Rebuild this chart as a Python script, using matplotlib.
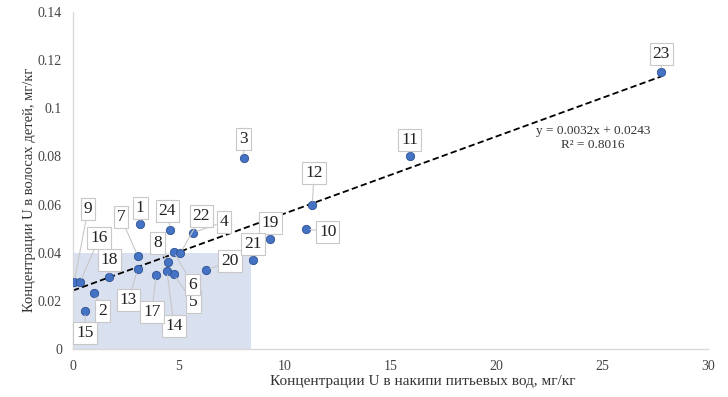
import matplotlib
matplotlib.use("Agg")
import matplotlib.pyplot as plt
from matplotlib.patches import Rectangle
import numpy as np

# ---- data ----
labels = ["1", "2", "3", "4", "5", "6", "7", "8", "9", "10", "11", "12",
          "13", "14", "15", "16", "17", "18", "19", "20", "21", "22", "23", "24"]
x_scale = [3.18, 1.01, 8.06, 5.67, 4.75, 4.75, 3.06, 4.47, 0.05, 11.0, 15.9, 11.3,
           3.05, 4.44, 0.57, 0.33, 3.92, 1.71, 9.33, 6.29, 8.51, 5.07, 27.8, 4.6]
y_hair = [0.0518, 0.0231, 0.0793, 0.0483, 0.0310, 0.0405, 0.0386, 0.0360, 0.0277, 0.0499, 0.0802, 0.0598,
          0.0331, 0.0325, 0.0158, 0.0277, 0.0307, 0.0298, 0.0457, 0.0328, 0.0370, 0.0398, 0.1151, 0.0494]
trend_slope = 0.0032
trend_intercept = 0.0243
trend_text = "y = 0.0032x + 0.0243\nR² = 0.8016"
zone_x_max = 8.4
zone_y_max = 0.04
x_ticks = [0, 5, 10, 15, 20, 25, 30]
y_ticks = [0, 0.02, 0.04, 0.06, 0.08, 0.1, 0.12, 0.14]
y_tick_labels = ["0", "0.02", "0.04", "0.06", "0.08", "0.1", "0.12", "0.14"]
x_title = "Концентрации U в накипи питьевых вод, мг/кг"
y_title = "Концентрации U в волосах детей, мг/кг"

# label offsets in pixels (dx, dy) – layout only
label_offsets = [(0, 16), (8, -18), (0, 19), (31, 11), (20, -28), (19, -33), (-17, 39), (-10, 19),
                 (14, 73), (22, -3), (0, 16), (2, 32), (-9, -31), (7, -55), (0, -22), (19, 44),
                 (-4, -37), (0, 17), (0, 16), (24, 9), (0, 16), (21, 37), (0, 18), (-3, 19)]

plt.rcParams['font.family'] = ['Liberation Serif', 'DejaVu Serif']

fig = plt.figure(figsize=(7.28, 3.97), dpi=100)
ax = fig.add_axes([73/728, 1-349/397, (708-73)/728, (349-12)/397])

ax.add_patch(Rectangle((0, 0), zone_x_max, zone_y_max, facecolor="#d9e0ef",
                       edgecolor="none", zorder=0))

xs = np.array(x_scale)
xt = np.array([0, xs.max()])
ax.plot(xt, trend_slope * xt + trend_intercept, color="black", linestyle=(0, (3.5, 1.8)),
        linewidth=1.3, zorder=2)

ax.scatter(x_scale, y_hair, s=36, color="#4472c4", edgecolors="#2f528f",
           linewidths=0.6, zorder=3)

for lab, xv, yv, (dx, dy) in zip(labels, x_scale, y_hair, label_offsets):
    ax.annotate(lab, xy=(xv, yv), xytext=(dx, dy), textcoords="offset pixels",
                ha="center", va="center", fontsize=12.5, color="#222222", zorder=4,
                bbox=dict(boxstyle="square,pad=0.17", facecolor="white",
                          edgecolor="#c8c8c8", linewidth=0.8),
                arrowprops=dict(arrowstyle="-", color="#c8c8c8", linewidth=0.8,
                                shrinkA=0, shrinkB=3))

fig.text(593/728, 1 - 138/397, trend_text, fontsize=9.5, color="#333333",
         ha="center", va="center", linespacing=1.15)

ax.set_xlim(0, 30)
ax.set_ylim(0, 0.14)
ax.set_xticks(x_ticks)
ax.set_yticks(y_ticks)
ax.set_yticklabels(y_tick_labels)
ax.tick_params(length=0, labelsize=10, labelcolor="#444444", pad=8)
for s in ["top", "right"]:
    ax.spines[s].set_visible(False)
for s in ["left", "bottom"]:
    ax.spines[s].set_color("#d9d9d9")
    ax.spines[s].set_linewidth(1.0)

fig.text(423/728, 1 - 382/397, x_title, ha="center", va="center", fontsize=11, color="#333333")
fig.text(30/728, 1 - 190/397, y_title, ha="center", va="center", rotation=90,
         fontsize=10.5, color="#333333")

fig.savefig("out.png", dpi=100)
